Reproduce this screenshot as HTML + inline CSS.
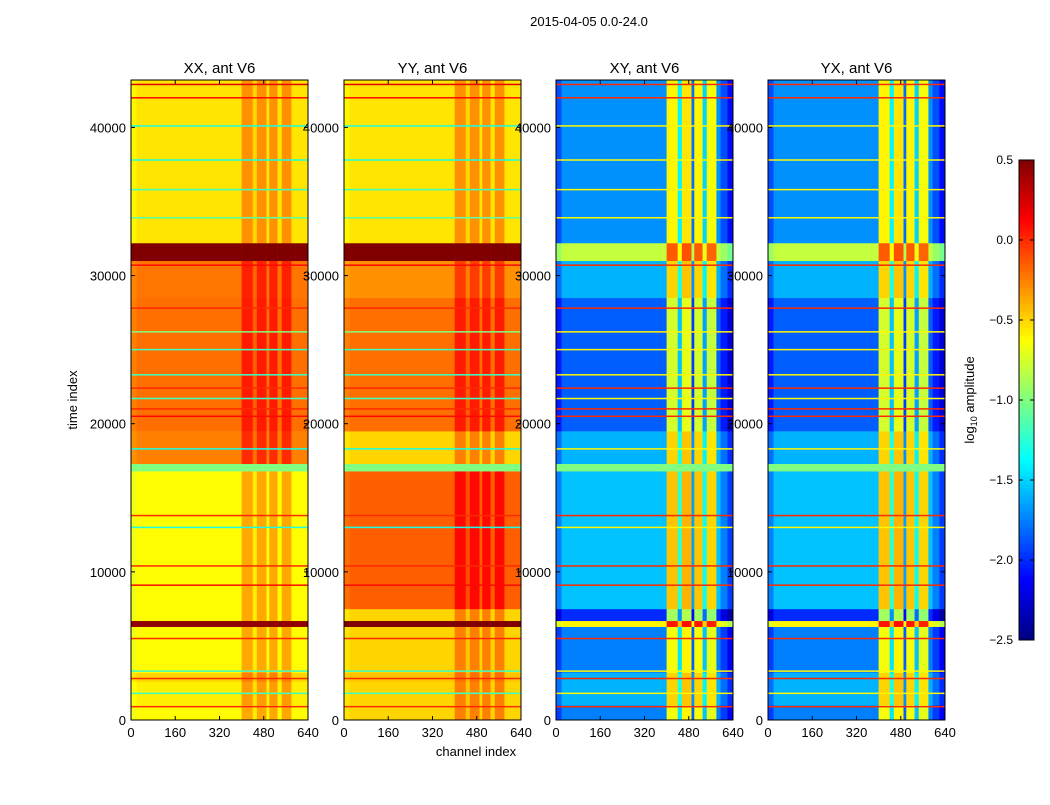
<!DOCTYPE html>
<html><head><meta charset="utf-8">
<style>
body{margin:0;background:#fff;}
svg text{font-family:"Liberation Sans",sans-serif;fill:#000;}
</style></head>
<body>
<svg id="fig" width="1050" height="800" viewBox="0 0 1050 800" xmlns="http://www.w3.org/2000/svg">
<rect width="1050" height="800" fill="#fff"/>
<text x="589" y="26" font-size="13" text-anchor="middle">2015-04-05 0.0-24.0</text>
<text x="476" y="756" font-size="13" text-anchor="middle">channel index</text>
<text transform="translate(77,400) rotate(-90)" font-size="13" text-anchor="middle">time index</text>
<text transform="translate(974,400) rotate(-90)" font-size="13" text-anchor="middle">log<tspan font-size="9" dy="3">10</tspan><tspan dy="-3"> amplitude</tspan></text>
<g id="panels"></g>
<g id="cbar"></g>
</svg>
<script>
const panelNames=["XX, ant V6","YY, ant V6","XY, ant V6","YX, ant V6"];
const timeEdges=[0,1000,2600,3200,6300,6700,7500,16800,17300,19500,28500,31000,32200,43200];
const baseXX=[-0.62,-0.58,-0.5,-0.62,0.45,-0.62,-0.62,-1.0,-0.25,-0.2,-0.22,0.5,-0.55];
const baseYY=[-0.5,-0.5,-0.45,-0.5,0.5,-0.5,-0.15,-1.0,-0.5,-0.2,-0.3,0.5,-0.55];
const baseXY=[-1.75,-1.6,-1.6,-1.75,-0.6,-2.0,-1.55,-1.0,-1.6,-1.85,-1.6,-0.8,-1.7];
const baseYX=[-1.75,-1.6,-1.6,-1.75,-0.6,-2.0,-1.55,-1.0,-1.6,-1.85,-1.6,-0.8,-1.7];
const chanEdges=[0,20,400,440,455,490,500,530,545,580,595,620,640];
const offPar=[-0.05,0,0.25,0.05,0.25,0.0,0.25,0.0,0.25,0.0,0,0];
const offCross=[-0.2,0,1.1,0.3,1.15,-0.1,1.1,0.2,1.05,0.0,-0.2,-0.4];
const lineTimes=[900,1800,2800,3300,5500,9100,10400,13000,13800,18300,20500,21000,21700,22400,23300,25000,26200,27800,30700,33900,35800,37800,40100,42000,42900];
const lineVals=[0.0,-1.2,0.0,-1.2,0.0,0.1,0.0,-1.3,0.0,-1.3,0.1,0.0,-1.2,0.0,-1.2,-1.2,-1.0,0.0,0.1,-1.1,-1.2,-1.3,-1.3,0.1,0.2];
const xTicks=[0,160,320,480,640];
const yTicks=[0,10000,20000,30000,40000];
const cbTicks=[0.5,0.0,-0.5,-1.0,-1.5,-2.0,-2.5];
const panelX=[131,344,556,768];
const PW=177,PT=80,PB=720,TMAX=43200,CMAX=640,VMIN=-2.5,VMAX=0.5;
const NS="http://www.w3.org/2000/svg";
function jet(v){let t=(v-VMIN)/(VMAX-VMIN);t=Math.max(0,Math.min(1,t));
 const f=x=>Math.round(255*Math.max(0,Math.min(1,x)));
 return `rgb(${f(1.5-Math.abs(4*t-3))},${f(1.5-Math.abs(4*t-2))},${f(1.5-Math.abs(4*t-1))})`;}
function el(tag,attrs,parent){const e=document.createElementNS(NS,tag);for(const k in attrs)e.setAttribute(k,attrs[k]);parent.appendChild(e);return e;}
const yS=t=>PB-(t/TMAX)*(PB-PT);
const root=document.getElementById('panels');
const bases=[baseXX,baseYY,baseXY,baseYX];
panelNames.forEach((name,p)=>{
 const x0=panelX[p];const xS=c=>x0+c/CMAX*PW;
 const g=el('g',{},root);
 
 
 const off=p<2?offPar:offCross;const base=bases[p];
 for(let i=0;i<timeEdges.length-1;i++){
  for(let j=0;j<chanEdges.length-1;j++){
   let v=base[i];
   if(p<2){ if(v<0.4&&v>-0.95)v+=off[j]; }
   else { if(v<-1.05||v>-0.95) v+= (v>-0.9? off[j]*0.6 : off[j]); }
   const y1=yS(timeEdges[i+1]),y2=yS(timeEdges[i]);
   const r=el('rect',{x:xS(chanEdges[j]),y:y1,width:xS(chanEdges[j+1])-xS(chanEdges[j])+0.3,height:y2-y1+0.3,fill:jet(v)},g);
   
   
  }
 }
 lineTimes.forEach((t,k)=>{
  const l=el('rect',{x:x0,y:yS(t)-0.75,width:PW,height:1.5,fill:jet(p<2?lineVals[k]:(lineVals[k]>-0.5?0.0:-0.6))},g);
  
  
 });
 const fr=el('rect',{x:x0,y:PT,width:PW,height:PB-PT,fill:'none',stroke:'#000','stroke-width':1},g);
 
 
 const tt=el('text',{x:x0+PW/2,y:73,'font-size':15,'text-anchor':'middle'},g);tt.textContent=name;
 
 
 xTicks.forEach(c=>{
  el('line',{x1:xS(c),x2:xS(c),y1:PB,y2:PB-4,stroke:'#000'},g);
  el('line',{x1:xS(c),x2:xS(c),y1:PT,y2:PT+4,stroke:'#000'},g);
  const t=el('text',{x:xS(c),y:737,'font-size':13,'text-anchor':'middle'},g);t.textContent=c;
  
  
 });
 yTicks.forEach(v=>{
  el('line',{x1:x0,x2:x0+4,y1:yS(v),y2:yS(v),stroke:'#000'},g);
  el('line',{x1:x0+PW,x2:x0+PW-4,y1:yS(v),y2:yS(v),stroke:'#000'},g);
  const t=el('text',{x:x0-5,y:yS(v)+5,'font-size':13,'text-anchor':'end'},g);t.textContent=v;
  
  
 });
});
const cb=document.getElementById('cbar');
const CX=1019,CW=15,CT=160,CB=640;
const cyS=v=>CB-(v-VMIN)/(VMAX-VMIN)*(CB-CT);
for(let i=0;i<120;i++){const v=VMIN+(i+0.5)*(VMAX-VMIN)/120;
 const r=el('rect',{x:CX,y:cyS(v)-(CB-CT)/240-0.3,width:CW,height:(CB-CT)/120+0.6,fill:jet(v)},cb);
 
 }
const cf=el('rect',{x:CX,y:CT,width:CW,height:CB-CT,fill:'none',stroke:'#000'},cb);


cbTicks.forEach(v=>{
 el('line',{x1:CX,x2:CX+4,y1:cyS(v),y2:cyS(v),stroke:'#000'},cb);
 el('line',{x1:CX+CW,x2:CX+CW-4,y1:cyS(v),y2:cyS(v),stroke:'#000'},cb);
 const t=el('text',{x:1013,y:cyS(v)+4,'font-size':12,'text-anchor':'end'},cb);t.textContent=(v<0?'\u2212':'')+Math.abs(v).toFixed(1);
 
 
});
</script>
</body></html>
